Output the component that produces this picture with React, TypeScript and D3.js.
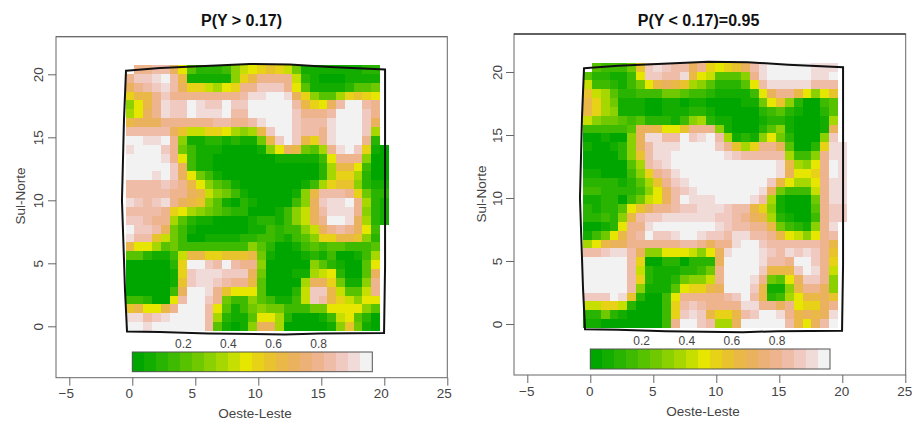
import React, { useEffect, useRef } from "react";
import * as d3 from "d3";

// Each row is one line of the grid, north to south; one base-20 digit per cell (shade), "." = no cell.
const leftRows = [
  ".eeffd94222368" + "9aba85111111122.",
  "egghjfc111116a" + "ceeee8210001111.",
  "defghfdaa879ae" + "eggge9411112445.",
  "accegeeeeeeeef" + "hhjjhda6447aba9.",
  "69cehggjhggjgg" + "jjjjjfca9dfjjfe.",
  "79dehggjhhijff" + "jjjjjgeeefjjjge.",
  "cdddeeeeeeffee" + "fhjjjgfffhjjjgd.",
  "fffffdb88aa976" + "7cgjjgffehjjjg7.",
  "jjhhje61122121" + "15cgjgcaehjjje2.",
  "hjjjge53111000" + "0169dc547ehjga10",
  "jjjjhe93110000" + "0001111139eee600",
  "jjjjjgd3110000" + "0000000027cc9300",
  "jjjhjgd9531000" + "0000000027aa7200",
  "ffffgfec964310" + "000000137abb6211",
  "fffffeedc86531" + "0000016cfffea522",
  "hgfgiedcb64102" + "1000036dghije721",
  "ffffea97654322" + "0001368dfhiie621",
  "ggfee742110000" + "1221368dejjid721",
  "jggfd531000000" + "11323368defed93.",
  "hffb8530011112" + "23321346aaccb62.",
  "c9974533333333" + "642001343443334.",
  "442113" + "8ccaabbb" + "c51000121300137.",
  "000002ajjgfjfe" + "e60000064210049.",
  "000001aghhhggg" + "d5000117892004d.",
  "000001bghhgfee" + "c400007dda5116e.",
  "000003djjheb99" + "9400028ggc8448e.",
  "332009fjjge533" + "6431138gfca8699.",
  "bc99cejjjf9413" + "565533355999964.",
  "hhfgijjjjf7211" + "499720001389420.",
  "jjhjjjjjjf4101" + "6dd70000016b510.",
];

const rightRows = [
  ".43335bghgffde" + "a9abdfhjjjjjhhh.",
  "4221139ggffhc9" + "84446ehjjjjjihj.",
  "83321359cdcb76" + "422249fhhhhhfff.",
  "b8742233355433" + "2111139deec969b.",
  "ca751110011011" + "00001159b620034.",
  "ca761110011122" + "100000234210024.",
  "86554342221367" + "211000122100017.",
  "333334ddc99bee" + "e6100024610001d.",
  "001006dhhffjgh" + "jf712169520006g.",
  "100126dfiihjjj" + "jgeb7aeed4002ahh",
  "000026bfhijjjj" + "jjhgfffff7336ehi",
  "0000047fgijjjj" + "jjjjjjjjhc769eji",
  "1100036aefhjjj" + "jjjjjjjjhd99aeji",
  "22221247beghjj" + "jjjjjjjgc9779ehh",
  "332222369dfghj" + "jjjjjjhd53338ehh",
  "112203589dfjhh" + "ijjjjif710005eii",
  "212249bdeefggh" + "hhgffca610004egg",
  "22326cfgghhhhi" + "hggfedc721003egg",
  "00129eehjjjjjj" + "jhgffeec53216eh.",
  "1359cefjgghjjh" + "ggfhiffec9869ef.",
  "79cddeeeeeeffe" + "deehjjgffffffec.",
  "ffghhfd6699986" + "9dhjjjigfhgigeb.",
  "jjjjjfa0022022" + "2djjjjhffejjgea.",
  "jjjjjf82111223" + "5ejjjjgcccgjhe8.",
  "jjjjjfa2112566" + "8ejjjhe549dgge6.",
  "jjjjjf611149aa" + "cdjjjgc116ceed6.",
  "gggjhb20039eee" + "eefgjfc2379ccdb.",
  "88aa820003afgf" + "eeeehheede9aade.",
  "2252100003aghg" + "caacfgjjhecdcdi.",
  "1100000003ejjg" + "f77djjjjjfc9dfj.",
];

// Shade digit -> colour class of the key (the pale shades sit one class higher)
const shadeToClass = [0, 1, 2, 3, 4, 5, 6, 7, 8, 9, 10, 11, 12, 13, 15, 16, 17, 18, 18, 19];

const boundaryX = [-0.5, 2.2, 5.77, 9.34, 12.5, 15.7, 20.06, 20.06, 19.98, 14.9, 12.1, 6, 2.2, -0.42, -0.58, -0.82, -0.66];
const boundaryY = [20.29, 20.5, 20.66, 20.82, 20.78, 20.58, 20.38, 4.7, -0.53, -0.57, -0.65, -0.57, -0.45, -0.41, 2.88, 10, 16.4];

const xTicks = [-5, 0, 5, 10, 15, 20, 25];
const yTicks = [0, 5, 10, 15, 20];
const legendTicks = [0.2, 0.4, 0.6, 0.8];

// R's terrain.colors(20)
function hsv(h: number, s: number, v: number) {
  const i = Math.floor(h * 6);
  const f = h * 6 - i;
  const p = v * (1 - s), q = v * (1 - f * s), t = v * (1 - (1 - f) * s);
  const [r, g, b] = [[v, t, p], [q, v, p], [p, v, t], [p, q, v], [t, p, v], [v, p, q]][i % 6];
  return d3.rgb(r * 255, g * 255, b * 255).formatHex();
}
const terrain: string[] = [
  ...d3.range(10).map((i) => hsv(4 / 12 - (2 / 12) * (i / 9), 1, 0.65 + 0.25 * (i / 9))),
  ...d3.range(1, 11).map((i) => hsv((2 / 12) * (1 - i / 10), 1 - i / 10, 0.9 + 0.05 * (i / 10))),
];

type Panel = {
  title: string; titleX: number; titleY: number;
  rows: string[];
  box: [number, number, number, number];
  x0: number; y0: number; unit: number;
  gridX0: number; gridY0: number; stepX: number; stepY: number;
  bar: [number, number, number, number];
  legend02: number; legendY: number; topStroke: string;
  xLabelDx: number; yLabelX: number; yTitleX: number; yTitleY: number; xTitleX: number; xTitleY: number;
};

const panels: Panel[] = [
  {
    title: "P(Y > 0.17)", titleX: 241.5, titleY: 26, rows: leftRows,
    box: [56, 36.7, 447.3, 377.7], x0: 132.3, y0: 326.3, unit: 12.6,
    gridX0: -0.524, gridY0: 20.74, stepX: 0.696, stepY: 0.704,
    bar: [132.3, 352, 372.3, 371.7], legend02: 183.3, legendY: 348, topStroke: "#666",
    xLabelDx: -3.5, yLabelX: 43, yTitleX: 25, yTitleY: 196, xTitleX: 255, xTitleY: 418,
  },
  {
    title: "P(Y < 0.17)=0.95", titleX: 698.5, titleY: 26, rows: rightRows,
    box: [514, 34, 905.7, 375], x0: 590.3, y0: 324, unit: 12.6,
    gridX0: -0.556, gridY0: 20.74, stepX: 0.696, stepY: 0.702,
    bar: [590.3, 349, 830, 369], legend02: 641.7, legendY: 345, topStroke: "#111",
    xLabelDx: -1, yLabelX: 501.7, yTitleX: 486, yTitleY: 194, xTitleX: 703, xTitleY: 416,
  },
];

const FONT = "'Liberation Sans', Arial, sans-serif";
const AXIS = "#666";
const TEXT = "#444";

export default function App() {
  const ref = useRef<SVGSVGElement>(null);
  useEffect(() => {
    const svg = d3.select(ref.current!);
    svg.selectAll("*").remove();
    panels.forEach((p) => {
      const [bl, bt, br, bb] = p.box;
      const x = d3.scaleLinear().domain([0, 20]).range([p.x0, p.x0 + 20 * p.unit]);
      const y = d3.scaleLinear().domain([0, 20]).range([p.y0, p.y0 - 20 * p.unit]);
      const color = d3.scaleOrdinal<number, string>().domain(d3.range(20)).range(terrain);
      const g = svg.append("g");

      const cells = p.rows.flatMap((row, r) =>
        row.split("").map((ch, c) => ({ r, c, ch })).filter((d) => d.ch !== ".")
      );
      g.append("g").attr("shape-rendering", "crispEdges").selectAll("rect").data(cells).join("rect")
        .attr("x", (d) => x(p.gridX0 + d.c * p.stepX))
        .attr("y", (d) => y(p.gridY0 - d.r * p.stepY))
        .attr("width", x(p.stepX) - x(0) + 0.3)
        .attr("height", y(0) - y(p.stepY) + 0.3)
        .attr("fill", (d) => color(shadeToClass[parseInt(d.ch, 20)]));

      const line = d3.line<number>().x((i) => x(boundaryX[i])).y((i) => y(boundaryY[i])).curve(d3.curveLinearClosed);
      g.append("path").attr("d", line(d3.range(boundaryX.length)))
        .attr("fill", "none").attr("stroke", "#111").attr("stroke-width", 2);

      g.append("rect").attr("x", bl).attr("y", bt).attr("width", br - bl).attr("height", bb - bt)
        .attr("fill", "none").attr("stroke", AXIS).attr("stroke-width", 1);
      g.append("line").attr("x1", bl).attr("x2", br).attr("y1", bt).attr("y2", bt).attr("stroke", p.topStroke);

      const xa = g.append("g").attr("transform", `translate(0,${bb})`)
        .call(d3.axisBottom(x).tickValues(xTicks).tickSize(8).tickPadding(3).tickFormat(d3.format("d")));
      xa.select(".domain").remove();
      xa.selectAll("line").attr("stroke", AXIS);
      xa.selectAll("text").attr("dx", p.xLabelDx).attr("fill", TEXT).attr("font-family", FONT).attr("font-size", 13.5);

      const ya = g.append("g").attr("transform", `translate(${bl},0)`)
        .call(d3.axisLeft(y).tickValues(yTicks).tickSize(8).tickFormat(d3.format("d")));
      ya.select(".domain").remove();
      ya.selectAll("line").attr("stroke", AXIS);
      ya.selectAll("text")
        .attr("x", 0).attr("dy", 0)
        .attr("text-anchor", "middle")
        .attr("transform", `translate(${p.yLabelX - bl},0) rotate(-90)`)
        .attr("fill", TEXT).attr("font-family", FONT).attr("font-size", 13.5);

      const [l0, lt, l1, lb] = p.bar;
      const lx = d3.scaleBand<number>().domain(d3.range(20)).range([l0, l1]);
      g.append("g").attr("shape-rendering", "crispEdges").selectAll("rect").data(d3.range(20)).join("rect")
        .attr("x", (d) => lx(d)!).attr("y", lt).attr("width", lx.bandwidth() + 0.3).attr("height", lb - lt)
        .attr("fill", (d) => color(d));
      g.append("rect").attr("x", l0).attr("y", lt).attr("width", l1 - l0).attr("height", lb - lt)
        .attr("fill", "none").attr("stroke", "#555");
      const ls = d3.scaleLinear().domain([0.2, 0.8]).range([p.legend02, p.legend02 + 135.4]);
      g.append("g").selectAll("text").data(legendTicks).join("text")
        .attr("x", (d) => ls(d)).attr("y", p.legendY).attr("text-anchor", "middle")
        .attr("fill", TEXT).attr("font-family", FONT).attr("font-size", 12).text((d) => d.toFixed(1));

      const label = (txt: string, tx: number, ty: number, size: number, rot = 0, bold = false, fill = TEXT) =>
        g.append("text").attr("transform", `translate(${tx},${ty}) rotate(${rot})`).attr("text-anchor", "middle")
          .attr("font-family", FONT).attr("font-size", size).attr("font-weight", bold ? 700 : 400)
          .attr("fill", fill).text(txt);
      label(p.title, p.titleX, p.titleY, 16, 0, true, "#111");
      label("Oeste-Leste", p.xTitleX, p.xTitleY, 13.5);
      label("Sul-Norte", p.yTitleX, p.yTitleY, 13.5, -90);
    });
  }, []);
  return <svg ref={ref} width={912} height={421} style={{ position: "absolute", left: 0, top: 0, background: "#fff", display: "block" }} />;
}
